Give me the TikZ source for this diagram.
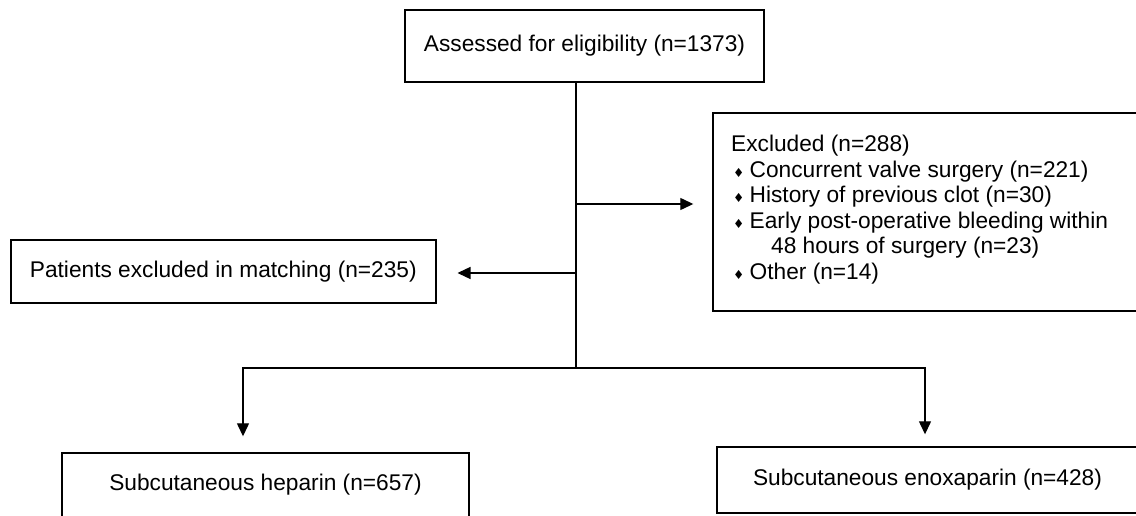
\documentclass[tikz,border=0pt]{standalone}
\usepackage{fontspec}
\setmainfont{Liberation Sans}
\newfontfamily\symfont{DejaVu Sans}
\usetikzlibrary{arrows.meta,calc}
\newcommand\bul{{\symfont\fontsize{12.5}{12.5}\selectfont ♦}}
\tikzset{
  box/.style={draw, line width=1.4pt, rectangle, inner sep=0pt, font=\fontsize{22.7}{25.5}\selectfont},
  conn/.style={line width=1.3pt},
  arr/.style={line width=1.3pt, -{Triangle[length=13pt,width=12pt]}},
}
\begin{document}
\begin{tikzpicture}[x=1pt,y=-1pt]
\clip (0,0) rectangle (1136,516);
\node[box, minimum width=359, minimum height=72] (assess) at (584.5,46) {Assessed for eligibility (n=1373)};
\node[box, minimum width=425, minimum height=63] (match) at (223.3,271.5) {Patients excluded in matching (n=235)};
\node[box, minimum width=447, minimum height=198] (excl) at (936.5,212) {};
\node[anchor=north west, inner sep=0pt, align=left, font=\fontsize{22.7}{25.5}\selectfont] (excltxt) at (731,135)
  {Excluded (n=288)\\
   \hspace*{2pt}\bul{}\hspace{-1pt} Concurrent valve surgery (n=221)\\
   \hspace*{2pt}\bul{}\hspace{-1pt} History of previous clot (n=30)\\
   \hspace*{2pt}\bul{}\hspace{-1pt} Early post-operative bleeding within\\
   \hspace*{40pt}48 hours of surgery (n=23)\\
   \hspace*{2pt}\bul{}\hspace{-1pt} Other (n=14)};
\node[box, minimum width=407, minimum height=64] (hep) at (265.5,485) {Subcutaneous heparin (n=657)};
\node[box, minimum width=421, minimum height=66] (enox) at (927.5,480) {Subcutaneous enoxaparin (n=428)};
\coordinate (j1) at (576,204);
\coordinate (j2) at (576,273);
\coordinate (j3) at (576,368);
\coordinate (bl) at (243,368);
\coordinate (br) at (925,368);
\draw[conn] (assess.south -| j3) -- (j3);
\draw[arr, shorten >=19pt] (j1) -- (excl.west |- j1);
\draw[arr, shorten >=21pt] (j2) -- (match.east |- j2);
\draw[arr, shorten >=16pt] (j3) -- (bl) -- (bl |- hep.north);
\draw[arr, shorten >=12pt] (j3) -- (br) -- (br |- enox.north);
\end{tikzpicture}
\end{document}
